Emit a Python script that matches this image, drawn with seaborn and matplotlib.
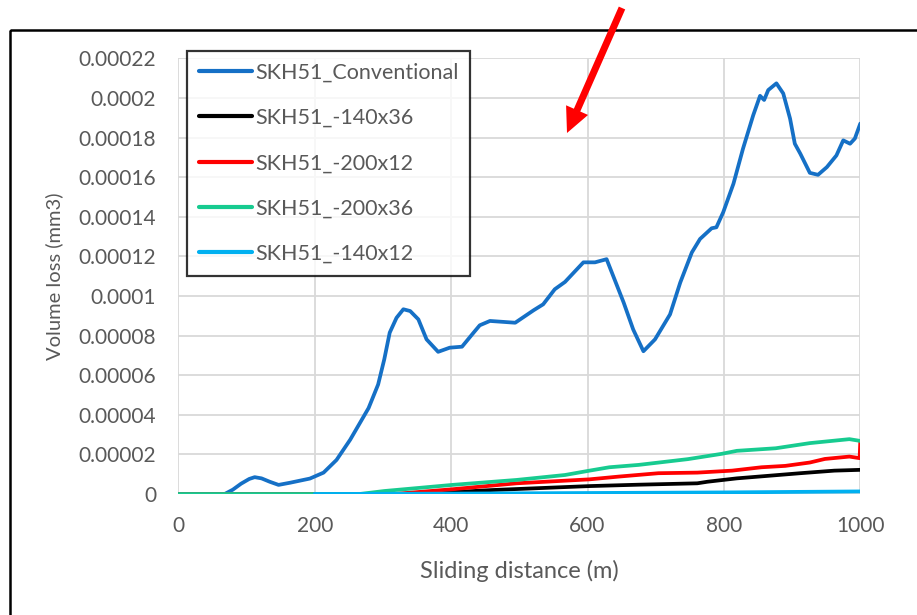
import numpy as np
import pandas as pd
import matplotlib
matplotlib.use("Agg")
import matplotlib.pyplot as plt
import seaborn as sns
from matplotlib.patches import FancyArrow, Rectangle

# Sliding distance (m) / volume loss (mm3) for each specimen
conv_dist = [0, 40, 68, 80, 92, 104, 112, 122, 134, 147, 164, 193, 213, 232,
             252, 279, 293, 302, 310, 320, 330, 340, 352, 364, 381, 398, 416,
             433, 442, 457, 494, 521, 535, 552, 567, 594, 611, 628, 653, 667,
             682, 699, 721, 736, 753, 765, 782, 789, 799, 814, 828, 843, 853,
             859, 865, 877, 887, 897, 904, 912, 926, 938, 951, 965, 975, 985,
             992, 1000]
conv_loss = [0, 0, 0, 0.0000022, 0.0000052, 0.0000076, 0.0000085, 0.0000079,
             0.0000062, 0.0000046, 0.0000057, 0.0000078, 0.0000108, 0.0000172,
             0.0000274, 0.0000434, 0.0000553, 0.000068, 0.0000815, 0.000089,
             0.0000933, 0.0000924, 0.0000882, 0.0000781, 0.0000718, 0.0000739,
             0.0000744, 0.0000815, 0.0000852, 0.0000874, 0.0000865, 0.0000928,
             0.0000958, 0.0001034, 0.0001071, 0.000117, 0.000117, 0.0001186,
             0.0000967, 0.0000831, 0.0000721, 0.0000781, 0.0000907, 0.0001068,
             0.000122, 0.0001288, 0.0001342, 0.0001347, 0.0001423, 0.0001567,
             0.0001744, 0.0001913, 0.0002011, 0.000199, 0.000204, 0.0002074,
             0.0002023, 0.0001896, 0.0001769, 0.0001719, 0.0001622, 0.0001612,
             0.0001651, 0.000171, 0.0001786, 0.0001769, 0.0001795, 0.0001871]

b140x36_dist = [0, 200, 350, 460, 603, 675, 761, 776, 819, 862, 912, 962, 1000]
b140x36_loss = [0, 0, 0, 0.000002, 0.000004, 0.0000047, 0.0000054, 0.0000062,
                0.0000079, 0.0000091, 0.0000105, 0.0000118, 0.0000122]

r200x12_dist = [0, 200, 316, 402, 496, 603, 646, 704, 761, 812, 855, 890, 926,
                948, 984, 999, 1000]
r200x12_loss = [0, 0, 0, 0.0000024, 0.0000054, 0.0000074, 0.0000088, 0.0000105,
                0.0000108, 0.0000118, 0.0000135, 0.0000142, 0.0000159,
                0.0000177, 0.0000189, 0.0000181, 0.0000265]

t200x36_dist = [0, 200, 266, 302, 402, 496, 567, 603, 632, 675, 747, 797, 819,
                876, 926, 984, 1000]
t200x36_loss = [0, 0, 0, 0.0000015, 0.0000046, 0.0000071, 0.0000096, 0.0000118,
                0.0000135, 0.0000147, 0.0000176, 0.0000203, 0.0000218,
                0.0000231, 0.0000257, 0.0000277, 0.0000268]

l140x12_dist = [200, 400, 600, 800, 1000]
l140x12_loss = [0, 0.0000002, 0.0000005, 0.0000008, 0.0000013]

series_names = ["SKH51_Conventional", "SKH51_-140x36", "SKH51_-200x12",
                "SKH51_-200x36", "SKH51_-140x12"]
series_colors = ["#1570C6", "#000000", "#FF0000", "#17CB90", "#00B0F0"]

x_ticks = [0, 200, 400, 600, 800, 1000]
y_ticks = [0, 0.00002, 0.00004, 0.00006, 0.00008, 0.0001, 0.00012, 0.00014,
           0.00016, 0.00018, 0.0002, 0.00022]
y_tick_labels = ["0", "0.00002", "0.00004", "0.00006", "0.00008", "0.0001",
                 "0.00012", "0.00014", "0.00016", "0.00018", "0.0002",
                 "0.00022"]

frames = []
for name, d, v in zip(series_names,
                      [conv_dist, b140x36_dist, r200x12_dist, t200x36_dist, l140x12_dist],
                      [conv_loss, b140x36_loss, r200x12_loss, t200x36_loss, l140x12_loss]):
    frames.append(pd.DataFrame({"distance": d, "loss": v, "series": name}))
df = pd.concat(frames, ignore_index=True)

sns.set_theme(style="white")
plt.rcParams["font.family"] = ["Lato", "DejaVu Sans"]
text_color = "#595959"

fig = plt.figure(figsize=(9.17, 6.15), dpi=100)
ax = fig.add_axes([178.3 / 917, 1 - 494 / 615, (860.3 - 178.3) / 917, (494 - 58.4) / 615])

sns.lineplot(data=df, x="distance", y="loss", hue="series",
             hue_order=series_names, palette=series_colors,
             estimator=None, sort=False, linewidth=2.7, ax=ax)

ax.set_xlim(0, 1000)
ax.set_ylim(0, 0.00022)
ax.set_xticks(x_ticks)
ax.set_xticklabels([str(t) for t in x_ticks])
ax.set_yticks(y_ticks)
ax.set_yticklabels(y_tick_labels)
ax.tick_params(axis="both", length=0, labelsize=15, labelcolor=text_color)
ax.tick_params(axis="x", pad=16)
ax.tick_params(axis="y", pad=16)
ax.grid(True, color="#D9D9D9", linewidth=1.3)
ax.set_axisbelow(True)
for s in ax.spines.values():
    s.set_visible(False)

ax.set_xlabel("Sliding distance (m)", fontsize=17, color=text_color, labelpad=17)
ax.set_ylabel("Volume loss (mm3)", fontsize=14.5, color=text_color, labelpad=11)

leg = ax.legend(loc="upper left", bbox_to_anchor=(0.0128, 1.018),
                borderaxespad=0, frameon=True, fancybox=False,
                edgecolor="black", fontsize=15.5, labelspacing=1.18,
                handlelength=2.45, handletextpad=0.15, borderpad=0.55,
                title=None)
leg.get_frame().set_linewidth(1.6)
for t in leg.get_texts():
    t.set_color(text_color)
for h in leg.get_lines():
    h.set_linewidth(3)

# Overlay in pixel coordinates for the frame and the pointer arrow
over = fig.add_axes([0, 0, 1, 1], facecolor="none")
over.set_xlim(0, 917)
over.set_ylim(615, 0)
over.axis("off")
over.add_patch(Rectangle((10, 30), 950, 650, fill=False, edgecolor="black",
                         linewidth=1.8))
over.add_patch(FancyArrow(622, 8, -55, 125, width=7, head_width=24,
                          head_length=25, length_includes_head=True,
                          color="#FF0000", linewidth=0))

fig.savefig("out.png", dpi=100)
